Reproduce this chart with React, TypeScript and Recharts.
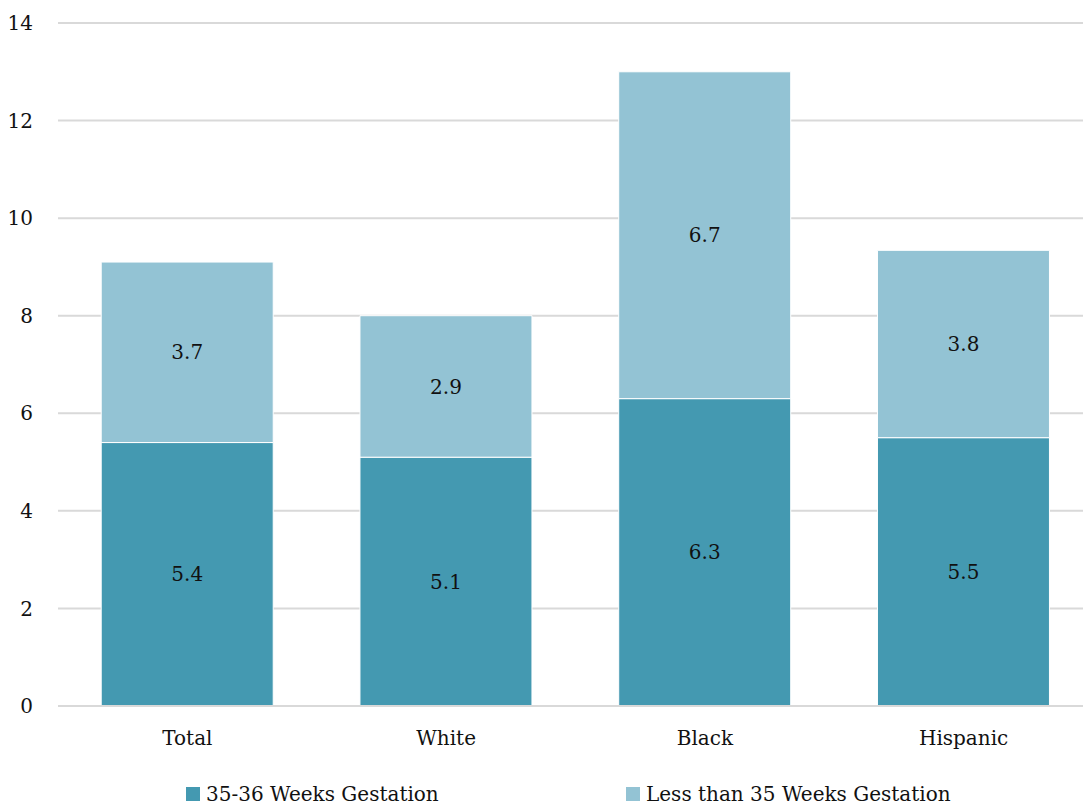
import React from "react";
import { Bar, BarChart, CartesianGrid, LabelList, Legend, XAxis, YAxis } from "recharts";

const groups = ["Total", "White", "Black", "Hispanic"];
const lateValues = [5.4, 5.1, 6.3, 5.5];
const earlyValues = [3.7, 2.9, 6.7, 3.84];
const yTicks = [0, 2, 4, 6, 8, 10, 12, 14];

const seriesNames = ["35-36 Weeks Gestation", "Less than 35 Weeks Gestation"];
const colors = ["#4499b1", "#93c3d4"];

const data = groups.map((g, i) => ({ group: g, late: lateValues[i], early: earlyValues[i] }));

const font = "'DejaVu Serif', serif";
const fontSize = 20;

const LegendBox = () => (
  <div style={{ position: "relative", height: 24, fontFamily: font, fontSize, color: "#111" }}>
    {seriesNames.map((name, i) => (
      <div
        key={name}
        style={{ position: "absolute", left: i === 0 ? 186 : 626, top: 0, height: 24, display: "flex", alignItems: "center" }}
      >
        <span style={{ width: 14, height: 14, background: colors[i], display: "inline-block", marginRight: 6 }} />
        <span>{name}</span>
      </div>
    ))}
  </div>
);

const fmt = (v: any) => Number(v).toFixed(1);

const App = () => {
  return (
    <div style={{ position: "absolute", left: 0, top: 0, width: 1083, height: 806, overflow: "hidden", background: "#fff" }}>
      <BarChart
        width={1093}
        height={806}
        data={data}
        margin={{ top: 23, right: 0, left: 0, bottom: 36 }}
        barCategoryGap="16.7%"
      >
        <CartesianGrid vertical={false} stroke="#d9d9d9" strokeWidth={2} />
        <XAxis
          dataKey="group"
          height={40}
          axisLine={{ stroke: "#d9d9d9", strokeWidth: 2 }}
          tickLine={false}
          tickMargin={19}
          tick={{ fill: "#111", fontSize, fontFamily: font }}
        />
        <YAxis
          width={58}
          domain={[0, 14]}
          ticks={yTicks}
          axisLine={false}
          tickLine={false}
          tickMargin={19}
          tick={{ fill: "#111", fontSize, fontFamily: font }}
        />
        <Legend verticalAlign="bottom" content={<LegendBox />} wrapperStyle={{ bottom: 0, left: 0, width: 1083 }} />
        <Bar dataKey="late" name={seriesNames[0]} stackId="a" fill={colors[0]} stroke="#fff" strokeWidth={1} isAnimationActive={false}>
          <LabelList dataKey="late" position="center" formatter={fmt} style={{ fill: "#111", fontSize, fontFamily: font }} />
        </Bar>
        <Bar dataKey="early" name={seriesNames[1]} stackId="a" fill={colors[1]} stroke="#fff" strokeWidth={1} isAnimationActive={false}>
          <LabelList dataKey="early" position="center" formatter={fmt} style={{ fill: "#111", fontSize, fontFamily: font }} />
        </Bar>
      </BarChart>
    </div>
  );
};

export default App;
